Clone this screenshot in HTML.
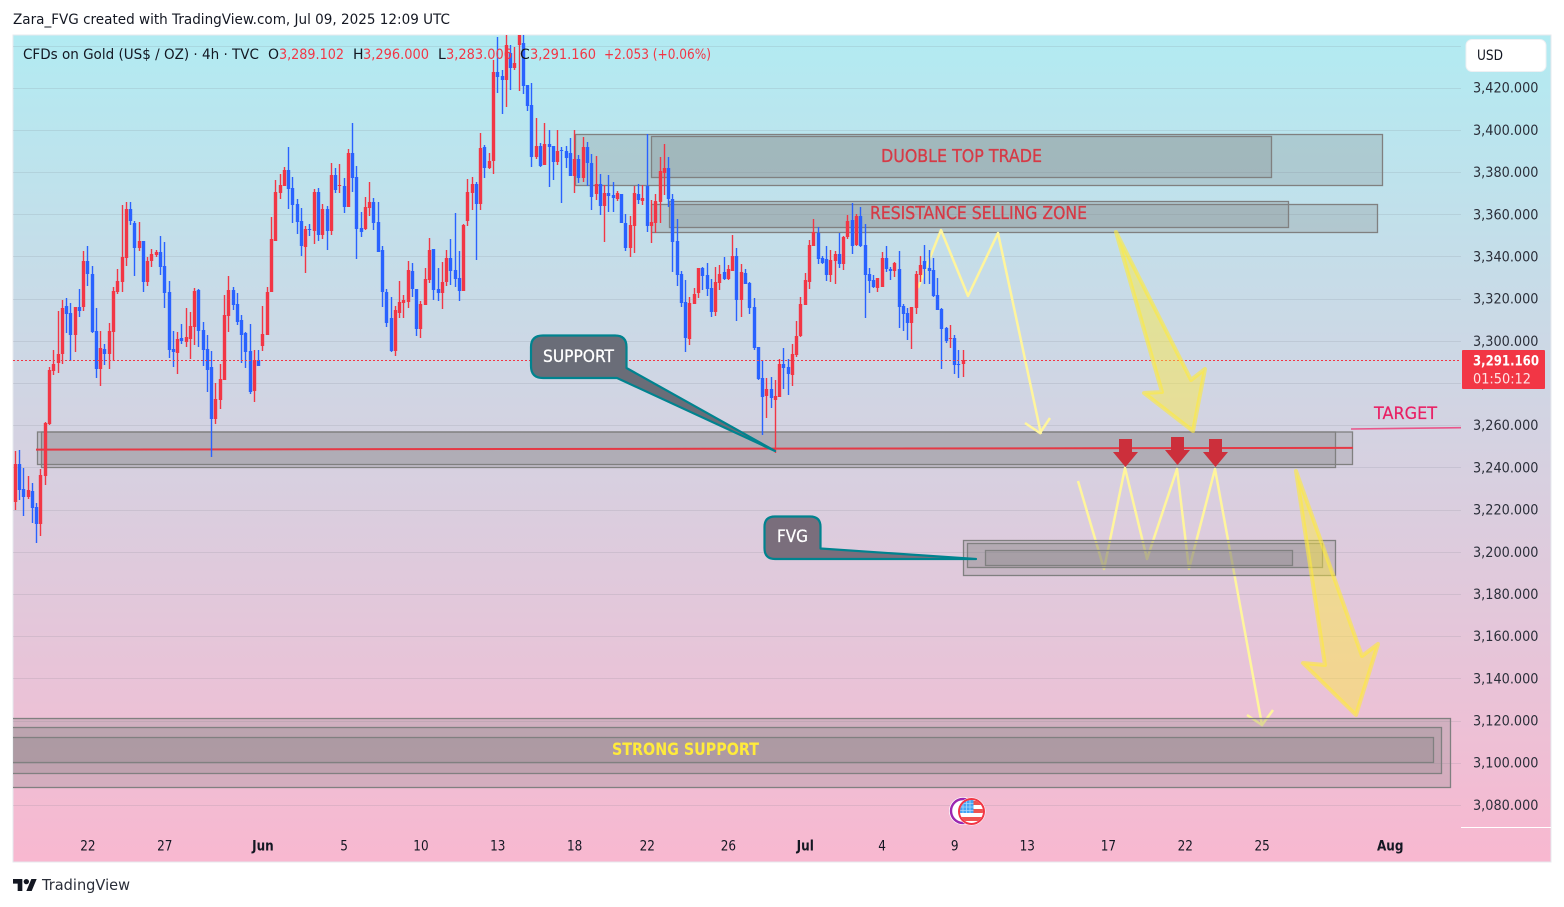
<!DOCTYPE html>
<html lang="en">
<head>
<meta charset="utf-8">
<title>CFDs on Gold chart</title>
<style>
html,body{margin:0;padding:0;background:#fff;width:1564px;height:907px;overflow:hidden}
svg{display:block;position:absolute;left:0;top:0}
text{font-family:"DejaVu Sans","Liberation Sans",sans-serif}
</style>
</head>
<body>
<svg id="root" xmlns="http://www.w3.org/2000/svg" width="1564" height="907" viewBox="0 0 1564 907">
  <defs>
    <linearGradient id="bg" x1="0" y1="0" x2="0" y2="1">
      <stop offset="0" stop-color="#b2ebf2"/>
      <stop offset="1" stop-color="#f8b8d0"/>
    </linearGradient>
    <clipPath id="paneClip"><rect x="13" y="35" width="1448" height="827"/></clipPath>
    <clipPath id="flagClip"><circle cx="971.5" cy="811.5" r="11.5"/></clipPath>
  </defs>

  <text x="13" y="24" font-size="14" fill="#131722" textLength="437" lengthAdjust="spacingAndGlyphs">Zara_FVG created with TradingView.com, Jul 09, 2025 12:09 UTC</text>

  <rect x="13" y="35" width="1538" height="827" fill="url(#bg)" stroke="#e6e8ee" stroke-width="1"/>

  <g id="grid"></g>
  <g id="yTicks"></g>
  <line x1="1461" y1="827.5" x2="1551" y2="827.5" stroke="#ffffff" stroke-width="1"/>

  <g clip-path="url(#paneClip)">
    <g fill="#808080" fill-opacity=".25" stroke="#808080" stroke-width="1.3">
      <rect x="575.5" y="134.5" width="807" height="51"/>
      <rect x="651.5" y="136.5" width="620" height="41"/>
      <rect x="651.5" y="204.5" width="726" height="28"/>
      <rect x="669.5" y="201.5" width="619" height="26"/>
      <rect x="37.5" y="432" width="1315" height="32.5"/>
      <rect x="41.5" y="432" width="1294" height="35.5"/>
    </g>
    <line x1="36" y1="449.6" x2="1353" y2="447.9" stroke="#e53945" stroke-width="2"/>
    <polyline points="918,288 941,230 968,296 998,233 1041,434" fill="none" stroke="#fff59d" stroke-width="2.5" stroke-linejoin="round"/>
    <polyline points="1025,423 1040,433 1050,418" fill="none" stroke="#fff59d" stroke-width="2.5"/>
    <polyline points="1078,481 1104,569 1125,468 1147,559 1177,469 1189,569 1215,469 1262,725" fill="none" stroke="#fff59d" stroke-width="2.5" stroke-linejoin="round"/>
    <polyline points="1247,715 1262,725 1273,710" fill="none" stroke="#fff59d" stroke-width="2.5"/>
    <g fill="#808080" fill-opacity=".25" stroke="#808080" stroke-width="1.3">
      <rect x="963.5" y="540.5" width="372" height="35"/>
      <rect x="967.5" y="543.5" width="355" height="24"/>
      <rect x="985.5" y="550.5" width="307" height="15"/>
      <rect x="5" y="718.5" width="1445.5" height="69"/>
      <rect x="5" y="727.5" width="1436.5" height="46"/>
      <rect x="5" y="737.5" width="1428.5" height="25"/>
    </g>
  </g>

  <g id="candles" clip-path="url(#paneClip)"></g>
  <line id="lastLine" x1="13" x2="1461" stroke="#f23645" stroke-width="1" stroke-dasharray="2 2" shape-rendering="crispEdges"/>

  <polygon points="1116,232 1191,380 1205,369 1193,431 1144,393 1162,392" fill="#ffeb3b" fill-opacity=".45" stroke="#ffeb3b" stroke-opacity=".6" stroke-width="4" stroke-linejoin="round"/>
  <polygon points="1296,471 1362,656 1378,644 1356,715 1303,663 1325,665" fill="#ffeb3b" fill-opacity=".45" stroke="#ffeb3b" stroke-opacity=".6" stroke-width="4" stroke-linejoin="round"/>

  <path d="M543,335.5 H615 Q626.5,335.5 626.5,347 V368 L775,451 L617,378 H543 Q531,378 531,366 V347 Q531,335.5 543,335.5 Z" fill="#6a6d78" stroke="#00838f" stroke-width="2.2" stroke-linejoin="round"/>
  <text x="543" y="362" font-size="17" fill="#ffffff" stroke="#ffffff" stroke-width=".3" textLength="71" lengthAdjust="spacingAndGlyphs">SUPPORT</text>
  <path d="M775,516.5 H810 Q820.5,516.5 820.5,527 V548.5 L976,559 H775 Q764.5,559 764.5,548 V527 Q764.5,516.5 775,516.5 Z" fill="#7a6e7c" stroke="#00838f" stroke-width="2.2" stroke-linejoin="round"/>
  <text x="777" y="542" font-size="17" fill="#ffffff" stroke="#ffffff" stroke-width=".3" textLength="31" lengthAdjust="spacingAndGlyphs">FVG</text>

  <polygon points="1119,439 1132,439 1132,452 1138,452 1125.5,467 1113,452 1119,452" fill="#cc2f3b"/>
  <polygon points="1171,437 1184,437 1184,450 1190,450 1177.5,465 1165,450 1171,450" fill="#cc2f3b"/>
  <polygon points="1209,439 1222,439 1222,452 1228,452 1215.5,467 1203,452 1209,452" fill="#cc2f3b"/>

  <line x1="1351" y1="429" x2="1461" y2="427.7" stroke="#ec407a" stroke-opacity=".85" stroke-width="1.6"/>
  <text x="1374" y="419" font-size="17" fill="#e91e63" stroke="#e91e63" stroke-width=".2" textLength="63" lengthAdjust="spacingAndGlyphs">TARGET</text>
  <text x="881" y="162" font-size="17.5" fill="#d63a46" stroke="#d63a46" stroke-width=".3" textLength="161" lengthAdjust="spacingAndGlyphs">DUOBLE TOP TRADE</text>
  <text x="870" y="219" font-size="17.5" fill="#d63a46" stroke="#d63a46" stroke-width=".3" textLength="217" lengthAdjust="spacingAndGlyphs">RESISTANCE SELLING ZONE</text>
  <text x="612" y="755" font-size="17" font-weight="bold" fill="#ffeb3b" textLength="147" lengthAdjust="spacingAndGlyphs">STRONG SUPPORT</text>

  <g font-size="14" fill="#131722">
    <text x="23" y="59" textLength="236" lengthAdjust="spacingAndGlyphs">CFDs on Gold (US$ / OZ) · 4h · TVC</text>
    <text x="268" y="59">O</text>
    <text x="279" y="59" fill="#f23645" textLength="65" lengthAdjust="spacingAndGlyphs">3,289.102</text>
    <text x="353" y="59">H</text>
    <text x="363" y="59" fill="#f23645" textLength="66" lengthAdjust="spacingAndGlyphs">3,296.000</text>
    <text x="438" y="59">L</text>
    <text x="446" y="59" fill="#f23645" textLength="66" lengthAdjust="spacingAndGlyphs">3,283.006</text>
    <text x="520" y="59">C</text>
    <text x="530" y="59" fill="#f23645" textLength="66" lengthAdjust="spacingAndGlyphs">3,291.160</text>
    <text x="604" y="59" fill="#f23645" textLength="107" lengthAdjust="spacingAndGlyphs">+2.053 (+0.06%)</text>
  </g>

  <g>
    <rect x="1466" y="39.5" width="80" height="32" rx="6" fill="#ffffff" stroke="#eef0f3"/>
    <text x="1477" y="60" font-size="14" fill="#131722" textLength="26" lengthAdjust="spacingAndGlyphs">USD</text>
  </g>

  <g id="priceTag">
    <rect id="priceTagBg" x="1462" width="83" height="39" rx="1" fill="#f23645"/>
    <text id="priceTagValue" x="1473" font-size="14" font-weight="bold" fill="#ffffff" textLength="66" lengthAdjust="spacingAndGlyphs">3,291.160</text>
    <text id="priceTagTimer" x="1473" font-size="14" fill="#ffe3e6" textLength="58" lengthAdjust="spacingAndGlyphs">01:50:12</text>
  </g>

  <g id="xTicks"></g>

  <g>
    <circle cx="963" cy="811" r="14" fill="#ffffff"/>
    <circle cx="963" cy="811" r="12" fill="#ffffff" stroke="#9c27b0" stroke-width="2.4"/>
    <circle cx="971.5" cy="811.5" r="14" fill="#ffffff"/>
    <g clip-path="url(#flagClip)">
      <rect x="959" y="799" width="26" height="25" fill="#ffffff"/>
      <rect x="959" y="801" width="26" height="4" fill="#ef5350"/>
      <rect x="959" y="809" width="26" height="4" fill="#ef5350"/>
      <rect x="959" y="817" width="26" height="4" fill="#ef5350"/>
      <rect x="960" y="800" width="13.5" height="13" fill="#42a5f5"/>
      <path d="M963,800V813M966.5,800V813M970,800V813M960,803.5H973.5M960,807H973.5M960,810.5H973.5" stroke="#ffffff" stroke-opacity=".55" stroke-width=".8" fill="none"/>
    </g>
    <circle cx="971.5" cy="811.5" r="12.5" fill="none" stroke="#f23645" stroke-width="2"/>
  </g>

  <g>
    <g transform="translate(13 876.3) scale(.667)" fill="#131722">
      <path d="M14 22H7V11H0V4h14v18zM28 22h-8l7.5-18h8L28 22z"/>
      <circle cx="20" cy="8" r="4"/>
    </g>
    <text x="42" y="890" font-size="15" fill="#2a2e39" textLength="88" lengthAdjust="spacingAndGlyphs">TradingView</text>
  </g>
</svg>

<script>
const opens = [
3224.0,3241.9,3230,3226.2,3229.1,3221.5,3213.4,3236.2,3260.8,3286,
3289.8,3294,3316.8,3313.5,3303,3316.3,3316.3,3338.1,3331.9,3304.9,
3286.9,3296.4,3294,3304.4,3323.4,3328.2,3339.5,3362.8,3356.1,3344.3,
3347.6,3328.2,3338.1,3340.9,3342.4,3335.7,3323.4,3296.4,3294.5,3301.6,
3299.7,3301.1,3306.8,3324.4,3305.4,3296.4,3287.9,3263.2,3272.2,3281.7,
3312,3324.4,3317.7,3310.1,3304,3295.4,3276.5,3291.2,3297.8,3303,
3323.4,3347.6,3370.3,3373.7,3381.2,3372.7,3365.1,3357.1,3344.7,3353.3,
3352.3,3370.8,3350.4,3362.8,3352.3,3378.9,3373.7,3373.7,3363.7,3389.3,
3377.9,3353.7,3353.3,3363.2,3366.1,3356.6,3343.3,3323.4,3311.1,3295.4,
3313.3,3318,3318.8,3333.4,3324.8,3305.9,3317.3,3329.1,3343.8,3324.8,
3322.9,3328.2,3339.5,3333.8,3330,3323.9,3357.1,3370.3,3374.6,3365.1,
3392.1,3382.2,3385.5,3427.7,3425.8,3423.9,3436.7,3429.6,3440.5,3441.4,
3421.5,3412,3387.4,3392.6,3383.6,3393.6,3392.6,3385,3390.7,3390.2,
3389.3,3378.4,3386.5,3377.4,3392.1,3384.6,3369.9,3374.6,3364.2,3370.3,
3369.4,3367.5,3369.9,3356.1,3344.3,3354.7,3369.9,3366.5,3373.7,3354.7,
3356.1,3366.1,3379.8,3382.2,3367.5,3347.6,3331.9,3318.7,3301.1,3317.7,
3322.9,3334.8,3331.5,3325.3,3313.9,3327.7,3332.9,3329.6,3333.3,3340.4,
3319.6,3332.4,3327.7,3316.3,3297.3,3282.6,3274.1,3277.4,3272.2,3273.6,
3289.3,3287.8,3284,3293.5,3302.5,3317.2,3328.1,3345.2,3351.4,3339.5,
3339,3331.5,3338.1,3341.4,3336.7,3349.5,3357.5,3345.7,3359.4,3345.7,
3331.9,3329.1,3325.3,3325.8,3339.5,3334.3,3333.3,3334.3,3316.8,3313.4,
3308.7,3315.8,3331.5,3338.1,3334.8,3333.8,3322,3315.3,3306.3,3301.1,
3301.6,3289.3,3289.1];
const highs = [
3248,3248.5,3240,3236.2,3232.9,3223.4,3239.5,3261.8,3287.9,3295.9,
3314.4,3319.6,3320.6,3318.2,3316.3,3324.8,3342.8,3345.2,3335.7,3315.8,
3304.9,3298.8,3308.7,3325.8,3334.3,3364.7,3366.1,3366.1,3357.1,3356.6,
3347.6,3340,3343.8,3343.3,3350,3347.1,3328.6,3304.9,3304.4,3308.2,
3315.8,3313.9,3325.3,3324.8,3309.2,3303,3295.4,3280.3,3289.3,3322,
3331,3325.8,3322.9,3312.5,3304.4,3308.2,3295.9,3295.9,3316.8,3325.8,
3359,3376.5,3379.3,3382.7,3392.1,3377.9,3367.5,3363.2,3354.7,3355.6,
3372.2,3372.7,3365.1,3364.2,3384.6,3382.2,3384.1,3377.4,3391.2,3403.5,
3383.1,3361.3,3368.4,3375.6,3368,3366.1,3345.2,3324.8,3321,3316.8,
3328.6,3322,3338.1,3337.2,3324.8,3319.1,3334.8,3349,3343.8,3334.8,
3337.6,3343.3,3348.5,3360.9,3342.8,3355.6,3377,3377.9,3375.6,3398.8,
3393.1,3389.3,3433.4,3444.4,3428.6,3445.7,3440.5,3439.5,3452,3450,
3421.5,3422.5,3405.9,3394,3403.5,3400.2,3392.6,3400.2,3392.1,3392.6,
3396.4,3400.2,3388.3,3396.9,3394.5,3388.8,3387.9,3379.3,3374.1,3378.9,
3375.6,3371.3,3369.9,3360.4,3359.4,3373.7,3374.6,3374.1,3398.3,3367,
3369.9,3387.4,3393.5,3387.4,3369.8,3358,3333.4,3329.1,3321,3325.3,
3334.8,3335.2,3337.1,3329.6,3335.2,3336.2,3340,3336.2,3350.4,3344.2,
3336.7,3334.3,3328.1,3320.5,3297.3,3291.2,3282.6,3283.1,3281.7,3291.6,
3296.9,3291.6,3298.8,3309.6,3321,3332.4,3348,3358,3354.2,3340.4,
3345.2,3343.3,3342.8,3351.4,3349.9,3359.9,3365.6,3360.4,3363.7,3355.6,
3334.8,3331.5,3330,3342.4,3345.2,3335.2,3337.6,3342.8,3317.7,3315.8,
3316.3,3333.4,3340.4,3345.7,3343.3,3339.5,3330,3315.8,3306.8,3307.8,
3303,3296,3296];
const lows = [
3220.1,3224.8,3217.2,3225.3,3213.9,3204.4,3207.8,3231.9,3260.4,3284.1,
3285,3289.3,3304,3290.7,3295,3311.6,3314.4,3326.3,3304,3282.6,
3278.9,3288.8,3286.9,3290.7,3322.5,3323.4,3335.7,3355.2,3331,3342.8,
3323.4,3326.3,3335.3,3340,3331.5,3315.8,3292.1,3287.9,3284.5,3298.8,
3297.3,3291.7,3298.3,3297.3,3288.3,3276,3245.2,3260.8,3268,3281.7,
3304.4,3314.9,3307.8,3289.8,3287.4,3275,3271.3,3288.3,3295.4,3303,
3323.4,3347.6,3367.5,3373.7,3362.8,3356.1,3350.9,3340.5,3332.4,3350,
3346.2,3347.6,3348.5,3343.3,3350.4,3370.3,3370.3,3360.9,3363.7,3370.8,
3339.1,3349.5,3352.8,3359.4,3352.8,3342.4,3316.3,3306.8,3295,3293.1,
3310.9,3310.9,3316,3321.2,3302.6,3301.6,3317.3,3327.7,3319.6,3319.1,
3315.4,3326.3,3326.7,3325.8,3319.1,3323.9,3354.7,3362.3,3338.6,3362.3,
3377.4,3381.7,3379.3,3417.7,3407.8,3411.1,3419.2,3428.6,3418.7,3417.3,
3409.2,3382.7,3386.5,3382.7,3383.6,3373.2,3376.5,3383.6,3365.6,3382.2,
3378.4,3370.3,3375,3375.6,3373.7,3362.3,3367,3359.9,3347.1,3361.3,
3361.3,3366.5,3356.1,3342.8,3340,3341.9,3365.1,3364.7,3351.9,3346.6,
3351.4,3356.1,3369.4,3363.9,3332.9,3326.2,3316.3,3295,3298.3,3317.7,
3320.5,3324.3,3321.5,3311.5,3312,3324.3,3329.1,3329.1,3333.3,3309.6,
3311.5,3327.2,3313,3296,3281.7,3255.6,3263.7,3268.4,3246.9,3273.6,
3277.4,3274.6,3278.8,3292.6,3302,3317.2,3324.8,3345.2,3336.7,3336.7,
3328.6,3328.1,3327.2,3334.8,3333.8,3348.5,3341.4,3345.2,3344.7,3311.1,
3322.9,3325.3,3323.4,3325.8,3332.9,3329.1,3330.5,3306.3,3304.9,3300.6,
3296.4,3313,3328.1,3327.2,3327.2,3321,3314.9,3286.9,3299.2,3296.9,
3284.5,3282.6,3283];
const closes = [
3241.9,3229.6,3226.2,3229.6,3221,3213.4,3236.7,3261.3,3286.4,3289.3,
3294,3315.8,3313,3303,3316.3,3314.4,3338.1,3331.9,3304.4,3286.9,
3296.9,3294,3304.9,3323.9,3328.6,3340,3362.8,3357.1,3344.3,3347.6,
3328.2,3338.1,3341.4,3342.4,3335.3,3322.9,3295.9,3295,3301.1,3300.2,
3302.1,3307.3,3323.9,3304.9,3295.9,3286.4,3263.2,3272.7,3282.2,3312.5,
3324.4,3317.3,3309.2,3303,3295,3276,3291.2,3288.3,3303.5,3323.4,
3348.5,3370.8,3374.1,3381.2,3372.2,3364.7,3356.6,3345.2,3353.3,3352.8,
3370.8,3350.4,3362.8,3352.3,3378.9,3371.8,3374.1,3363.7,3389.3,3377.4,
3353.3,3351.9,3363.7,3366.1,3356.1,3342.4,3323.4,3308.7,3295.4,3314.9,
3318.8,3319.6,3333.8,3324.8,3305.9,3317.7,3329.6,3343.3,3324.4,3322.9,
3328.2,3339.5,3333.4,3329.6,3323.9,3355.2,3370.8,3374.6,3365.1,3391.7,
3382.2,3385.5,3427.7,3425.3,3423.9,3440.5,3429.6,3432,3449,3421,
3411.6,3387.4,3392.6,3383.1,3393.6,3392.1,3385,3390.2,3390.2,3386.9,
3378.4,3386.5,3377.4,3392.1,3384.6,3368.4,3374.6,3364.2,3370.3,3368.9,
3368,3370.3,3356.1,3344.3,3355.2,3370.3,3367,3368,3354.7,3356.6,
3366.5,3380.8,3382.2,3367.5,3347.1,3331.5,3318.2,3301.6,3318.2,3322.5,
3334.8,3331,3324.8,3313.9,3328.1,3331.9,3329.6,3334.3,3340.4,3319.6,
3332.9,3327.2,3315.8,3296.9,3282.2,3273.6,3277.4,3273.1,3274.1,3289.3,
3287.4,3284.5,3294,3302.5,3317.7,3329.1,3345.7,3351.8,3339,3337.1,
3331.5,3338.6,3341.4,3336.7,3349.5,3357,3345.2,3359.4,3345.2,3331.5,
3328.6,3325.8,3330,3339.5,3334.3,3333.3,3337.1,3316.3,3313,3308.7,
3316.3,3331.9,3336.2,3334.3,3333.3,3321.5,3314.9,3305.9,3300.2,3301.6,
3288.8,3288.8,3291.16];

const priceTicks = [3440,3420,3400,3380,3360,3340,3320,3300,3280,3260,3240,3220,3200,3180,3160,3140,3120,3100,3080];
const dateLabels = ["22","27","Jun","5","10","13","18","22","26","Jul","4","9","13","17","22","25","Aug"];
const dateBars = [17,35,58,77,95,113,131,148,167,185,203,220,237,256,274,292,322];
const boldDates = ["Jun","Jul","Aug"];

const NS = 'http://www.w3.org/2000/svg';
function xOf(bar){ return 15.3 + 4.27 * bar; }
function yOf(price){ return 46 + (3440 - price) * 2.1095; }
function fmt(p){ return p.toFixed(3).replace(/\B(?=(\d{3})(?=\d*\.))/g, ','); }
function make(tag, parent){
  const el = document.createElementNS(NS, tag);
  parent.appendChild(el);
  return el;
}

const gridLayer = document.getElementById('grid');
const yTickLayer = document.getElementById('yTicks');
priceTicks.forEach(function(p){
  const y = Math.floor(yOf(p)) + 0.5;
  const gl = make('line', gridLayer);
  
  
  gl.setAttribute('x1', 13);
  gl.setAttribute('x2', 1461);
  gl.setAttribute('y1', y);
  gl.setAttribute('y2', y);
  gl.setAttribute('stroke', '#787b86');
  gl.setAttribute('stroke-opacity', '0.16');
  const t = make('text', yTickLayer);
  
  
  t.setAttribute('x', 1473);
  t.setAttribute('y', yOf(p) + 4.5);
  t.setAttribute('font-size', '14');
  t.setAttribute('fill', '#2a2e39');
  t.setAttribute('textLength', '65.5');
  t.setAttribute('lengthAdjust', 'spacingAndGlyphs');
  t.textContent = fmt(p);
});

const xTickLayer = document.getElementById('xTicks');
dateLabels.forEach(function(lbl, i){
  const t = make('text', xTickLayer);
  
  
  t.setAttribute('x', xOf(dateBars[i]));
  t.setAttribute('y', 850.5);
  t.setAttribute('text-anchor', 'middle');
  t.setAttribute('font-size', '14');
  t.setAttribute('fill', '#131722');
  if (boldDates.indexOf(lbl) >= 0) t.setAttribute('font-weight', 'bold');
  t.textContent = lbl;
  t.setAttribute('textLength', (t.getComputedTextLength() * 0.86).toFixed(1));
  t.setAttribute('lengthAdjust', 'spacingAndGlyphs');
});

const candleLayer = document.getElementById('candles');
closes.forEach(function(c, i){
  const o = opens[i];
  const col = c >= o ? '#f23645' : '#2962ff';
  const cx = Math.floor(xOf(i));
  const hiY = Math.round(yOf(highs[i]));
  const loY = Math.round(yOf(lows[i]));
  const topY = Math.round(yOf(Math.max(o, c)));
  const botY = Math.round(yOf(Math.min(o, c)));
  const wick = make('rect', candleLayer);
  
  
  wick.setAttribute('x', cx - 0.2);
  wick.setAttribute('y', hiY);
  wick.setAttribute('width', 1.4);
  wick.setAttribute('height', Math.max(1, loY - hiY));
  wick.setAttribute('fill', col);
  const body = make('rect', candleLayer);
  
  
  body.setAttribute('x', cx - 1.2);
  body.setAttribute('y', topY);
  body.setAttribute('width', 3.4);
  body.setAttribute('height', Math.max(1, botY - topY));
  body.setAttribute('fill', col);
});

const lastClose = closes[closes.length - 1];
const lastY = Math.floor(yOf(lastClose) + 0.3) + 0.5;
const lastLine = document.getElementById('lastLine');
lastLine.setAttribute('y1', lastY);
lastLine.setAttribute('y2', lastY);
document.getElementById('priceTagBg').setAttribute('y', lastY - 10.5);
const tagValue = document.getElementById('priceTagValue');
tagValue.setAttribute('y', lastY + 5);
tagValue.textContent = fmt(lastClose);
document.getElementById('priceTagTimer').setAttribute('y', lastY + 23);
</script>
</body>
</html>
